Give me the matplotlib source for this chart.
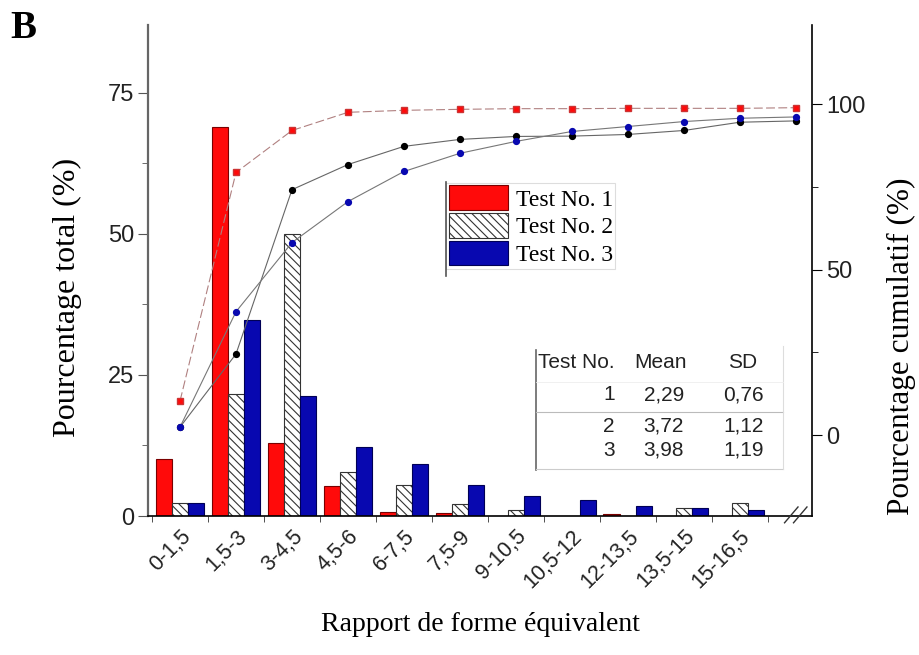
import matplotlib
matplotlib.use("Agg")
import matplotlib.pyplot as plt
import numpy as np

categories = ["0-1,5", "1,5-3", "3-4,5", "4,5-6", "6-7,5", "7,5-9", "9-10,5",
              "10,5-12", "12-13,5", "13,5-15", "15-16,5"]
test1 = [10.1, 69.0, 12.9, 5.3, 0.7, 0.5, 0.0, 0.0, 0.3, 0.0, 0.0]
test2 = [2.3, 21.6, 50.0, 7.8, 5.5, 2.1, 1.0, 0.0, 0.0, 1.4, 2.3]
test3 = [2.3, 34.8, 21.3, 12.3, 9.2, 5.5, 3.5, 2.8, 1.8, 1.4, 1.0]
# cumulative curves (last point drawn at the axis break)
cum1 = [10.3, 79.4, 92.1, 97.6, 98.2, 98.5, 98.7, 98.7, 98.8, 98.8, 98.8, 99.0]
cum2 = [2.4, 24.5, 74.2, 81.8, 87.3, 89.4, 90.3, 90.4, 90.9, 92.1, 94.6, 95.0]
cum3 = [2.4, 37.3, 58.2, 70.6, 79.7, 85.2, 88.8, 91.8, 93.3, 94.8, 95.8, 96.2]
legend_labels = ["Test No. 1", "Test No. 2", "Test No. 3"]
table_header = ["Test No.", "Mean", "SD"]
table_rows = [["1", "2,29", "0,76"], ["2", "3,72", "1,12"], ["3", "3,98", "1,19"]]

serif = "Liberation Serif"
sans = "Liberation Sans"

fig = plt.figure(figsize=(9.2, 6.55), dpi=100)
ax = fig.add_axes([0.161, 0.2122, 0.7216, 0.7496])
ax2 = ax.twinx()

x = np.arange(len(categories))
w = 0.29
RED = "#ff0a0a"
BLUE = "#0808b0"
plt.rcParams['hatch.linewidth'] = 0.8
b1 = ax.bar(x - w, test1, w, color=RED, edgecolor="#7a0000", linewidth=0.8, label=legend_labels[0])
b2 = ax.bar(x, test2, w, color="white", edgecolor="#333333", hatch="\\\\\\\\", linewidth=0.8, label=legend_labels[1])
b3 = ax.bar(x + w, test3, w, color=BLUE, edgecolor="#000055", linewidth=0.8, label=legend_labels[2])

xc = np.arange(len(cum1))
ax2.plot(xc, cum2, color="#666666", lw=0.8, ls="-", marker="o", ms=4.2, mfc="black", mec="black")
ax2.plot(xc, cum3, color="#777777", lw=0.8, ls="-", marker="o", ms=4.2, mfc=BLUE, mec=BLUE)
ax2.plot(xc, cum1, color="#b08080", lw=0.8, ls=(0, (8, 3)), marker="s", ms=3.8, mfc=RED, mec="#cc3333")

ax.set_xlim(-0.57, 11.29)
ax.set_ylim(0, 87)
ax2.set_ylim(-24.5, 124)

ax.set_yticks([0, 25, 50, 75])
ax.set_yticks([12.5, 37.5, 62.5], minor=True)
ax2.set_yticks([0, 50, 100])
ax2.set_yticks([25, 75], minor=True)

ax.set_xticks(x)
ax.set_xticklabels(categories, rotation=45, ha="right", rotation_mode="anchor",
                   fontsize=15.5, family=sans, color="#222222")
ax.tick_params(axis="x", which="major", length=0, pad=7)
ax.set_xticks(np.arange(-0.5, 11.0, 1.0), minor=True)
ax.tick_params(axis="x", which="minor", length=4, direction="out", color="#333333")

ax.tick_params(axis="y", which="major", length=7, labelsize=17, direction="out", color="#555555", labelcolor="#222222", pad=3)
ax.tick_params(axis="y", which="minor", length=4, direction="out", color="#555555")
for t in ax.get_yticklabels():
    t.set_family(sans)
ax2.tick_params(axis="y", which="major", length=7, labelsize=17, direction="out", labelcolor="#222222", pad=3)
ax2.tick_params(axis="y", which="minor", length=4, direction="out")
for t in ax2.get_yticklabels():
    t.set_family(sans)

for a in (ax, ax2):
    a.spines["top"].set_visible(False)
ax.spines["left"].set_color("#666666")
ax.spines["left"].set_linewidth(1.6)
ax2.spines["left"].set_visible(False)
ax2.spines["right"].set_linewidth(1.2)
ax.spines["right"].set_visible(False)
ax.spines["bottom"].set_linewidth(1.2)
ax2.spines["bottom"].set_visible(False)

# axis break marks
for dx in (-0.08, 0.08):
    ax.plot([11.0 + dx - 0.12, 11.0 + dx + 0.12], [-1.2, 1.6], color="#333333", lw=1.0,
            clip_on=False, zorder=5)

ax.set_ylabel("Pourcentage total (%)", family=serif, fontsize=23, va="center")
ax.yaxis.set_label_coords(-0.122, 0.446)
ax2.set_ylabel("Pourcentage cumulatif (%)", family=serif, fontsize=22.5, va="center")
ax2.yaxis.set_label_coords(1.135, 0.346)
ax.set_xlabel("Rapport de forme équivalent", family=serif, fontsize=20, labelpad=14)

fig.text(0.011, 0.985, "B", family=serif, fontsize=28, fontweight="bold", va="top", ha="left")

leg = ax2.legend(handles=[b1, b2, b3], labels=legend_labels, loc="upper left",
                 bbox_to_anchor=(0.449, 0.678), prop={"family": serif, "size": 17},
                 frameon=True, fancybox=False, handlelength=2.5, handleheight=1.2,
                 handletextpad=0.35, labelspacing=0.12, borderpad=0.1, borderaxespad=0,
                 framealpha=1)
leg.get_frame().set_edgecolor("#dddddd")
leg.get_frame().set_linewidth(0.8)
fig.add_artist(plt.Line2D([446/920, 446/920], [1-182/655, 1-276/655], color="#555555", lw=1.2))

# stats table
tx0, tx1 = 536/920, 783/920
rows_y = [1 - 395/655, 1 - 426/655, 1 - 450/655]
head_y = 1 - 362/655
fs_t = 15
fig.text(538/920, head_y, table_header[0], family=sans, fontsize=fs_t, ha="left", va="center", color="#222222")
fig.text(661/920, head_y, table_header[1], family=sans, fontsize=fs_t, ha="center", va="center", color="#222222")
fig.text(743/920, head_y, table_header[2], family=sans, fontsize=fs_t, ha="center", va="center", color="#222222")
right_edges = [615/920, 684/920, 764/920]
for i, row in enumerate(table_rows):
    for j in range(3):
        fig.text(right_edges[j], rows_y[i], row[j], family=sans, fontsize=fs_t,
                 ha="right", va="center", color="#222222")
fig.add_artist(plt.Line2D([tx0, tx0], [1-350/655, 1-470/655], color="#666666", lw=1.2))
fig.add_artist(plt.Line2D([tx0, tx1], [1-412/655, 1-412/655], color="#bbbbbb", lw=0.8))
fig.add_artist(plt.Line2D([tx0, tx1], [1-469/655, 1-469/655], color="#cccccc", lw=0.8))
fig.add_artist(plt.Line2D([tx1, tx1], [1-346/655, 1-469/655], color="#dddddd", lw=0.8))
fig.add_artist(plt.Line2D([tx0, tx1], [1-382/655, 1-382/655], color="#eeeeee", lw=0.6))

fig.savefig("out.png", dpi=100)
